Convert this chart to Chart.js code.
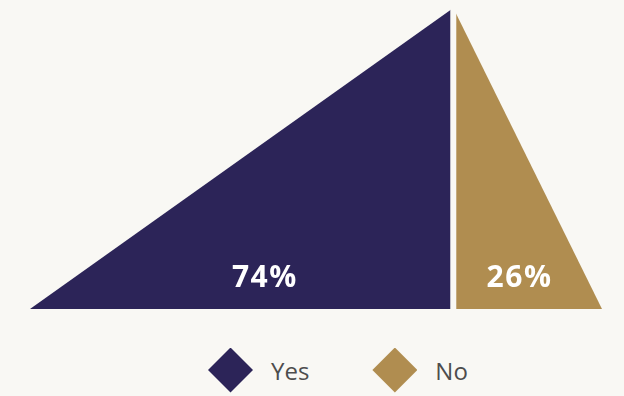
<!DOCTYPE html>
<html>
<head>
<meta charset="utf-8">
<script src="https://cdn.jsdelivr.net/npm/chart.js@4"></script>
<style>
  body { margin: 0; background: #f9f8f4; }
  #wrap { position: relative; width: 624px; height: 396px; }
  #chart-box { position: absolute; left: 0; top: 0; width: 624px; height: 312px; }
  #legend {
    position: absolute; left: 0; top: 347px; height: 46px; padding-left: 208px;
    display: flex; align-items: center;
    font-family: "Open Sans", sans-serif; font-size: 24px; color: #4d4d4d;
  }
  .legend-item { display: flex; align-items: center; }
  .legend-item + .legend-item { margin-left: 63px; }
  .swatch { width: 45px; height: 45px; margin-right: 18px; clip-path: polygon(50% 0, 100% 50%, 50% 100%, 0 50%); }
</style>
</head>
<body>
<div id="wrap">
  <div id="chart-box"><canvas id="share-canvas"></canvas></div>
  <div id="legend"></div>
</div>
<script>
const categories = ["Yes", "No"];
const shares = [74, 26];

const palette = ["#2c2458", "#b08d50"];
const bgColor = "#f9f8f4";
const peak = 100;

// the whole triangle spans 0..100 on x, split at the first share
const split = shares[0];
const total = shares[0] + shares[1];

const datasets = [
  {
    label: categories[0],
    data: [{ x: 0, y: 0 }, { x: split, y: peak }, { x: split, y: 0 }],
    backgroundColor: palette[0],
    fill: "origin"
  },
  {
    label: categories[1],
    data: [{ x: split, y: peak }, { x: total, y: 0 }],
    backgroundColor: palette[1],
    fill: "origin"
  }
];

// gap between the two halves plus the percentage labels
const splitLabels = {
  id: "splitLabels",
  afterDatasetsDraw(chart) {
    const { ctx, chartArea, scales: { x, y } } = chart;
    const xSplit = x.getPixelForValue(split);
    const x0 = x.getPixelForValue(0);
    const x1 = x.getPixelForValue(total);
    const base = y.getPixelForValue(0);
    const top = y.getPixelForValue(peak);

    ctx.save();
    ctx.fillStyle = bgColor;
    ctx.fillRect(xSplit - 3, chartArea.top - 1, 6, chartArea.bottom - chartArea.top + 2);

    const textBase = base - 22;
    const t = (base - (textBase - 11)) / (base - top);
    const spans = [
      [x0 + t * (xSplit - x0), xSplit],
      [xSplit, x1 - t * (x1 - xSplit)]
    ];
    ctx.font = "bold 30px 'Open Sans', sans-serif";
    ctx.letterSpacing = "1.5px";
    ctx.fillStyle = "#ffffff";
    ctx.textAlign = "center";
    ctx.textBaseline = "alphabetic";
    shares.forEach((v, i) => {
      const cx = (spans[i][0] + spans[i][1]) / 2;
      ctx.fillText(v + "%", cx, textBase);
    });
    ctx.restore();
  }
};

function buildLegend(chart) {
  const box = document.getElementById("legend");
  chart.data.datasets.forEach(ds => {
    const item = document.createElement("div");
    item.classList.add("legend-item");
    const sw = document.createElement("span");
    sw.classList.add("swatch");
    sw.style.background = ds.backgroundColor;
    const txt = document.createElement("span");
    txt.appendChild(document.createTextNode(ds.label));
    item.appendChild(sw);
    item.appendChild(txt);
    box.appendChild(item);
  });
}

const chart = new Chart(document.getElementById("share-canvas"), {
  type: "line",
  data: { datasets },
  options: {
    responsive: true,
    maintainAspectRatio: false,
    animation: false,
    layout: { padding: { left: 30, right: 22, top: 8, bottom: 3 } },
    elements: {
      line: { tension: 0, borderWidth: 0, borderColor: "transparent" },
      point: { radius: 0, hoverRadius: 0 }
    },
    scales: {
      x: { type: "linear", min: 0, max: total, display: false },
      y: { min: 0, max: peak, display: false }
    },
    plugins: {
      legend: { display: false },
      tooltip: { enabled: false }
    }
  },
  plugins: [splitLabels]
});

buildLegend(chart);
</script>
</body>
</html>
